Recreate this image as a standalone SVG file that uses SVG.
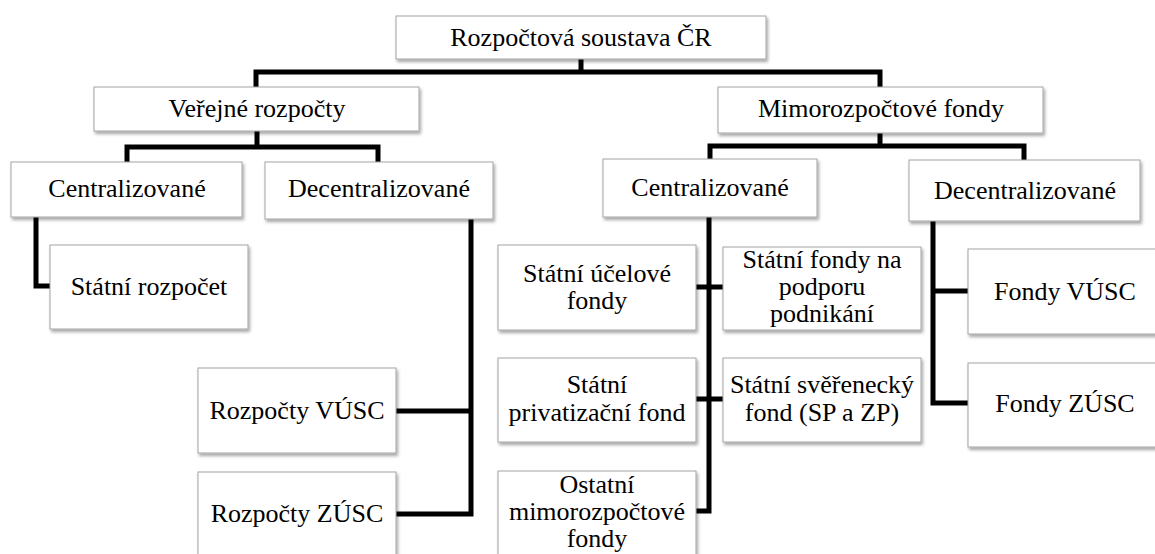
<svg xmlns="http://www.w3.org/2000/svg" width="1155" height="554" viewBox="0 0 1155 554">
<style>
.box{fill:#fff;stroke:#a3a3a3;stroke-width:1;filter:url(#sh)}
.t{font-size:26px;fill:#000;text-anchor:middle}
.c{fill:none;stroke:#000;stroke-width:5;stroke-linejoin:miter;stroke-linecap:butt}
</style>
<defs>
<filter id="sh" x="-10%" y="-10%" width="120%" height="130%">
<feDropShadow dx="1.5" dy="2.5" stdDeviation="1.5" flood-color="#000" flood-opacity="0.35"/>
</filter>
</defs>
<rect width="1155" height="554" fill="#fff"/>
<g id="connectors">
<path class="c" d="M581,59 V72 M256,89 V72 H880 V89"/>
<path class="c" d="M257,131 V147 M127,164 V147 H378 V164"/>
<path class="c" d="M880,133 V146 M710,161 V146 H1024 V162"/>
<path class="c" d="M36,217 V286 H50"/>
<path class="c" d="M471,219 V514 H396 M471,411 H396"/>
<path class="c" d="M709,217 V511 H696 M696,287 H723 M696,399 H723"/>
<path class="c" d="M933,221 V403 H968 M933,291 H968"/>
</g>
<g id="nodes" font-family="'Liberation Serif', Tinos, 'Times New Roman', 'DejaVu Serif', serif">
<g id="n-root"><rect class="box" x="396" y="16" width="370" height="43"/><text class="t" x="581" y="46">Rozpočtová soustava ČR</text></g>
<g id="n-verejne"><rect class="box" x="94" y="87" width="325" height="44"/><text class="t" x="257" y="117">Veřejné rozpočty</text></g>
<g id="n-mimo"><rect class="box" x="718" y="87" width="325" height="46"/><text class="t" x="881" y="117">Mimorozpočtové fondy</text></g>
<g id="n-vr-central"><rect class="box" x="11" y="162" width="231" height="55"/><text class="t" x="127" y="197">Centralizované</text></g>
<g id="n-vr-decentral"><rect class="box" x="265" y="162" width="228" height="57"/><text class="t" x="379" y="197">Decentralizované</text></g>
<g id="n-mf-central"><rect class="box" x="603" y="159" width="214" height="58"/><text class="t" x="710" y="196">Centralizované</text></g>
<g id="n-mf-decentral"><rect class="box" x="909" y="160" width="231" height="61"/><text class="t" x="1025" y="199">Decentralizované</text></g>
<g id="n-sr"><rect class="box" x="50" y="245" width="198" height="84"/><text class="t" x="149" y="295">Státní rozpočet</text></g>
<g id="n-rvusc"><rect class="box" x="198" y="368" width="198" height="85"/><text class="t" x="297" y="419">Rozpočty VÚSC</text></g>
<g id="n-rzusc"><rect class="box" x="198" y="472" width="198" height="90"/><text class="t" x="297" y="522">Rozpočty ZÚSC</text></g>
<g id="n-suf"><rect class="box" x="498" y="245" width="198" height="85"/><text class="t" x="597" y="282">Státní účelové</text><text class="t" x="597" y="309">fondy</text></g>
<g id="n-sfpp"><rect class="box" x="723" y="247" width="198" height="83"/><text class="t" x="822" y="268">Státní fondy na</text><text class="t" x="822" y="295">podporu</text><text class="t" x="822" y="322">podnikání</text></g>
<g id="n-spf"><rect class="box" x="498" y="358" width="198" height="84"/><text class="t" x="597" y="393">Státní</text><text class="t" x="597" y="421">privatizační fond</text></g>
<g id="n-ssf"><rect class="box" x="723" y="358" width="198" height="84"/><text class="t" x="822" y="393">Státní svěřenecký</text><text class="t" x="822" y="421">fond (SP a ZP)</text></g>
<g id="n-omf"><rect class="box" x="498" y="471" width="198" height="90"/><text class="t" x="597" y="493">Ostatní</text><text class="t" x="597" y="520">mimorozpočtové</text><text class="t" x="597" y="547">fondy</text></g>
<g id="n-fvusc"><rect class="box" x="968" y="249" width="198" height="85"/><text class="t" x="1065" y="300">Fondy VÚSC</text></g>
<g id="n-fzusc"><rect class="box" x="968" y="363" width="198" height="84"/><text class="t" x="1065" y="412">Fondy ZÚSC</text></g>
</g>
</svg>
